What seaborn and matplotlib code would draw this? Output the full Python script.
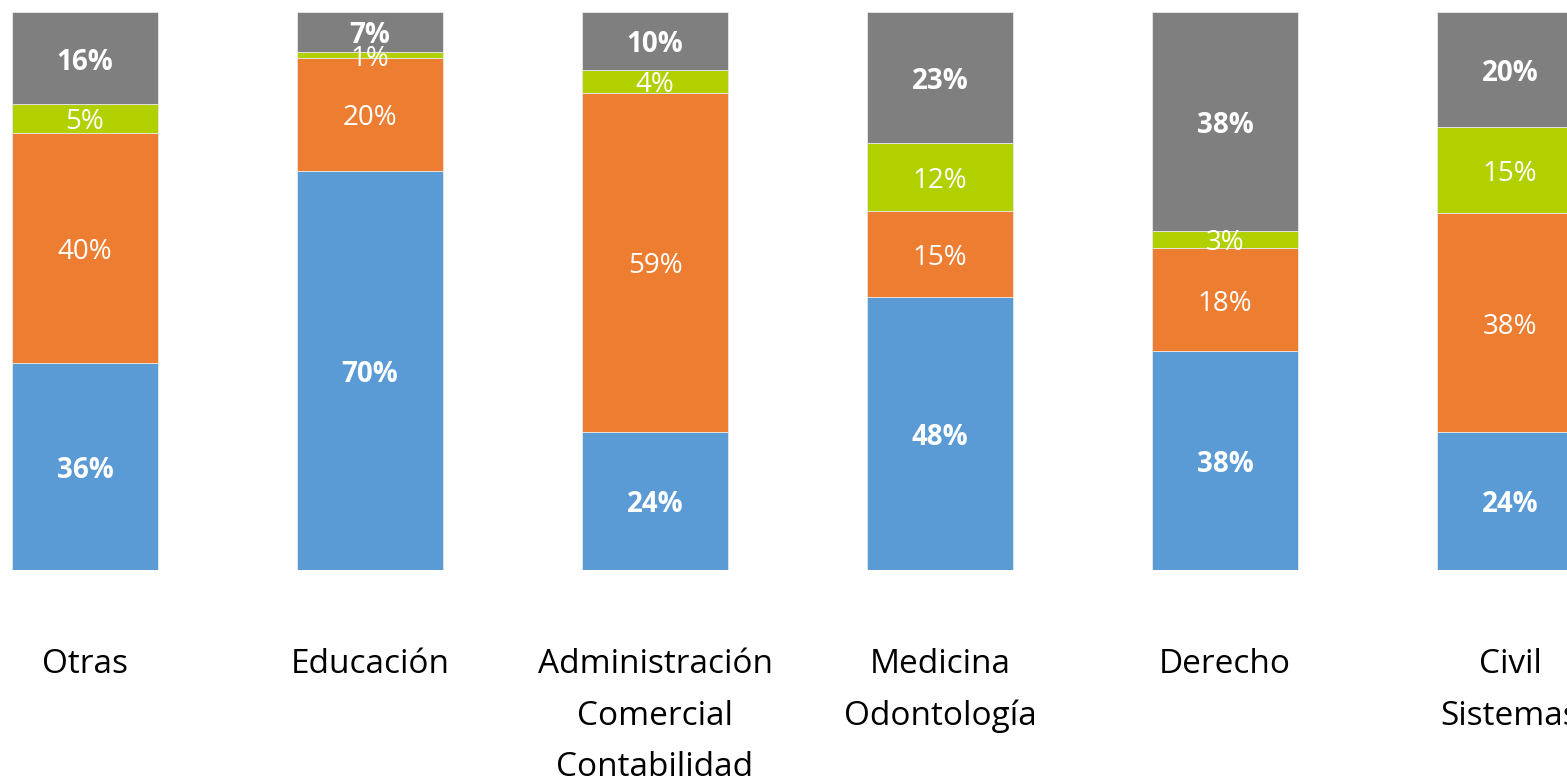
import matplotlib
matplotlib.use("Agg")
import matplotlib.pyplot as plt
import seaborn as sns
import numpy as np
import pandas as pd

categories = ["Otras", "Educación", "Administración\nComercial\nContabilidad",
              "Medicina\nOdontología", "Derecho", "Civil\nSistemas"]
serie_azul = [36, 70, 24, 48, 38, 24]
serie_naranja = [40, 20, 59, 15, 18, 38]
serie_verde = [5, 1, 4, 12, 3, 15]
serie_gris = [16, 7, 10, 23, 38, 20]

sns.set_theme(style="white")
plt.rcParams['font.family'] = ['Open Sans', 'DejaVu Sans']

series = [serie_azul, serie_naranja, serie_verde, serie_gris]
colors = ["#5B9BD5", "#ED7D31", "#B2D000", "#7F7F7F"]
bold = [True, False, False, True]

raw = np.array(series, dtype=float)
totals = raw.sum(axis=0)
norm = raw / totals * 100

fig = plt.figure(figsize=(15.67, 7.81), dpi=100)
ax = fig.add_axes([0, (781 - 570) / 781, 1, 558 / 781])

bottom = np.zeros(len(categories))
for i, (vals, col) in enumerate(zip(norm, colors)):
    df = pd.DataFrame({"cat": categories, "val": vals})
    sns.barplot(data=df, x="cat", y="val", color=col, width=0.512,
                bottom=bottom, ax=ax, edgecolor="#E8E8E8", linewidth=0.6,
                saturation=1)
    for j, v in enumerate(vals):
        ax.annotate(f"{int(raw[i][j])}%", xy=(j, bottom[j] + v / 2),
                    xytext=(0, -4), textcoords="offset pixels",
                    ha="center", va="center", color="white", fontsize=20,
                    fontweight="bold" if bold[i] else "normal")
    bottom = bottom + vals

ax.set_xlim(-85 / 285, (1567 - 85) / 285)
ax.set_ylim(0, 100)
ax.set_xlabel("")
ax.set_ylabel("")
ax.set_yticks([])
ax.set_xticks(range(len(categories)))
ax.set_xticklabels(categories, fontsize=24, linespacing=1.75, color="black")
ax.tick_params(axis="x", length=0, pad=56)
for s in ax.spines.values():
    s.set_visible(False)

fig.savefig("out.png", dpi=100)
